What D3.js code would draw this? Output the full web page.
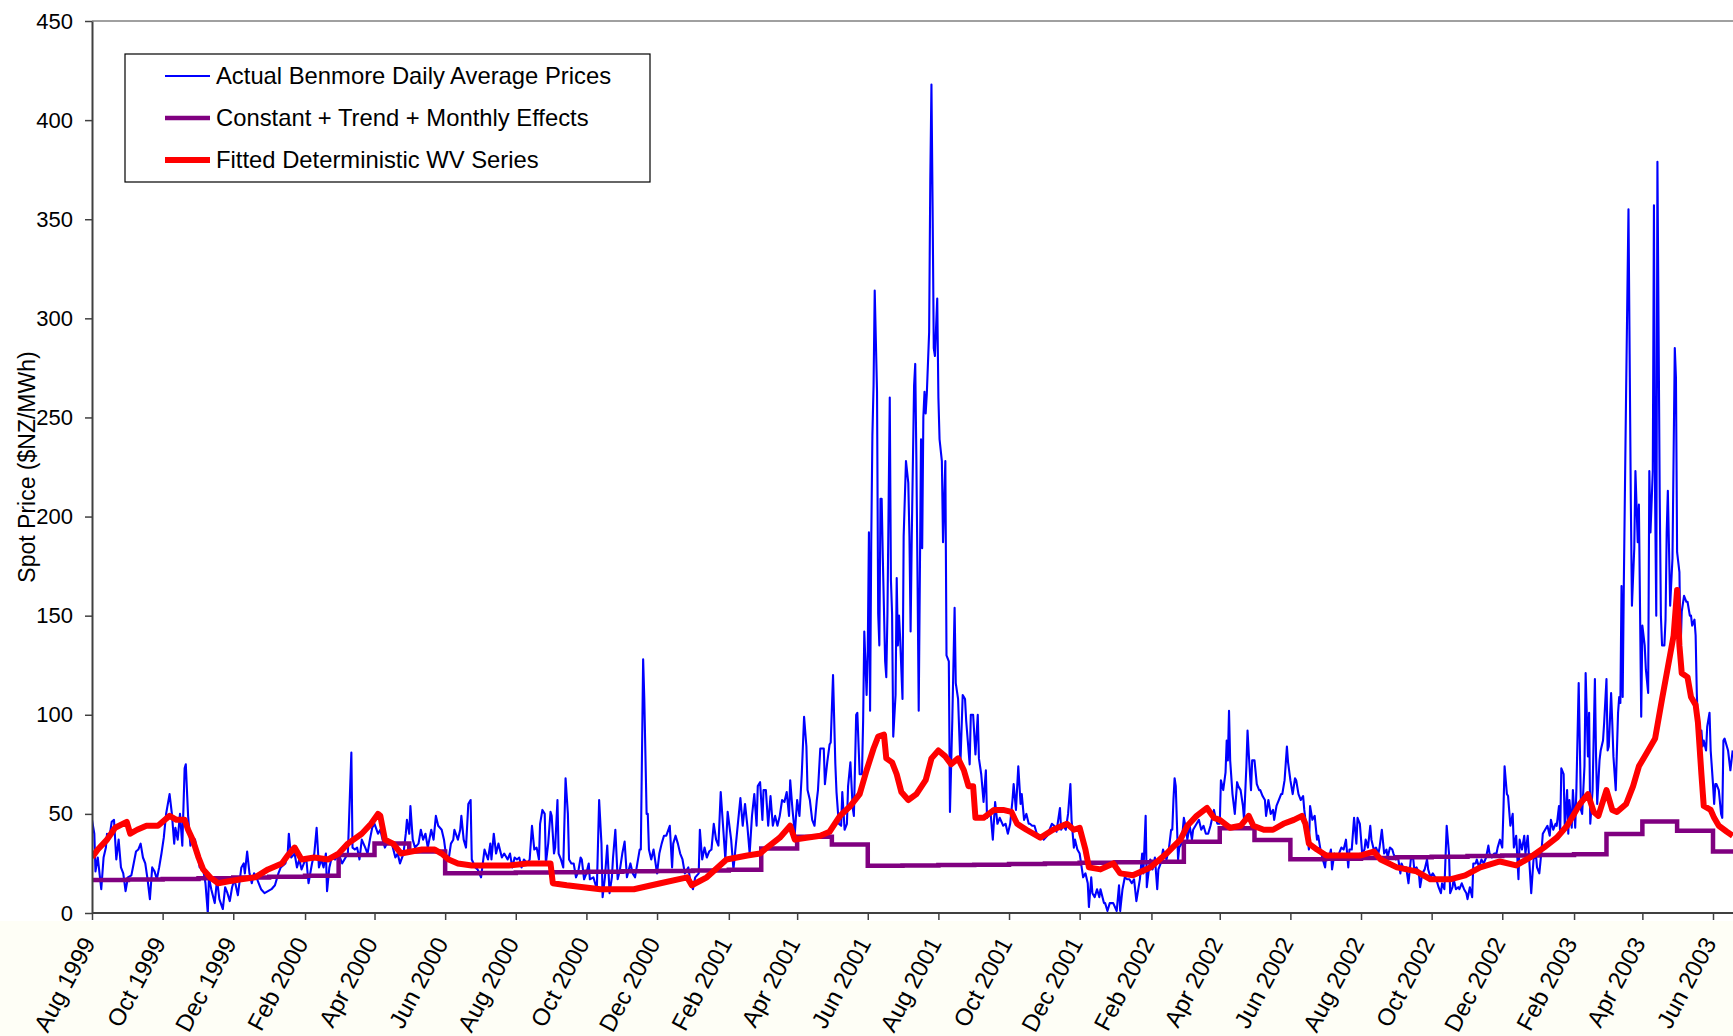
<!DOCTYPE html>
<html>
<head>
<meta charset="utf-8">
<script src="https://cdn.jsdelivr.net/npm/d3@7"></script>
<style>
  body { margin: 0; background: #fff; }
  svg text { font-family: "Liberation Sans", Arial, sans-serif; fill: #000; }
</style>
</head>
<body>
<svg id="chart" width="1733" height="1036"></svg>
<script>
// day offsets are counted from 1 Aug 1999
const START = Date.UTC(1999, 7, 1);
const DAY = 86400000;

const seriesLabels = [
  "Actual Benmore Daily Average Prices",
  "Constant + Trend + Monthly Effects",
  "Fitted Deterministic WV Series"
];
const seriesColors = ["#0000ff", "#800080", "#ff0000"];
const seriesWidths = [2.1, 4.5, 6];

const yTicks = [0, 50, 100, 150, 200, 250, 300, 350, 400, 450];

// [day, $/MWh]
const actualPrices = [
  [0,47],[2,40],[3,21],[5,28],[8,12],[10,28],[12,33],[13,40],[15,38],[17,46],[19,47],[21,27],[23,37],[25,23],[27,20],[29,11],[31,18],[34,19],[36,25],[38,31],[40,32],[42,35],[44,28],[46,25],[48,17],[50,7],[52,23],[54,21],[56,17],[58,23],[60,30],[62,38],[64,50],[67,60],[69,50],[71,35],[72,43],[74,37],[76,50],[78,34],[80,73],[81,75],[83,49],[85,34],[87,38],[89,37],[91,30],[93,23],[96,22],[98,15],[100,0],[101,18],[103,12],[106,5],[108,17],[110,7],[113,2],[115,13],[117,10],[119,6],[121,13],[123,17],[126,9],[129,23],[131,25],[132,20],[134,31],[136,20],[138,15],[140,20],[142,18],[144,15],[146,12],[149,10],[152,11],[155,12],[158,14],[161,20],[163,23],[167,25],[169,30],[170,40],[172,28],[175,30],[177,23],[179,27],[181,22],[183,25],[185,28],[187,15],[190,25],[192,30],[194,43],[196,23],[198,27],[200,23],[202,30],[203,11],[205,23],[207,28],[210,27],[213,30],[216,25],[218,27],[221,30],[224,81],[225,33],[227,32],[229,33],[231,27],[233,37],[236,33],[238,30],[240,37],[242,43],[244,45],[247,40],[249,42],[251,37],[253,33],[256,37],[259,35],[262,28],[264,30],[266,25],[269,30],[271,40],[272,47],[274,40],[275,54],[277,37],[279,33],[282,35],[284,42],[286,37],[288,40],[290,33],[293,42],[295,37],[297,49],[299,44],[302,42],[304,37],[306,28],[308,27],[310,35],[312,37],[313,42],[316,37],[318,42],[319,49],[321,37],[323,33],[325,55],[327,57],[328,27],[331,23],[333,22],[336,18],[339,32],[342,27],[344,35],[345,27],[347,40],[349,30],[351,35],[354,28],[356,30],
  [359,27],[361,30],[363,23],[365,28],[367,27],[369,28],[371,23],[373,27],[376,25],[378,27],[380,44],[382,32],[384,33],[386,27],[387,45],[389,52],[391,50],[392,25],[394,35],[396,51],[397,49],[399,30],[400,33],[402,57],[403,30],[405,27],[407,23],[409,68],[411,50],[412,27],[414,25],[416,25],[418,18],[420,21],[422,28],[423,27],[425,17],[427,20],[429,25],[430,17],[433,18],[436,12],[438,57],[440,35],[441,8],[443,18],[445,34],[447,10],[449,18],[450,28],[452,42],[454,17],[456,22],[458,30],[460,36],[462,18],[465,25],[467,20],[469,18],[471,25],[473,32],[474,32],[476,128],[477,108],[479,50],[480,50],[481,32],[483,27],[485,32],[488,20],[490,30],[492,35],[494,39],[496,39],[499,44],[501,23],[502,35],[504,39],[506,35],[508,30],[510,27],[512,20],[515,23],[517,15],[519,12],[521,18],[524,20],[525,42],[527,27],[529,33],[531,28],[533,31],[535,32],[537,45],[539,37],[541,34],[543,61],[545,44],[547,27],[549,51],[552,37],[554,22],[557,40],[560,58],[562,44],[564,55],[566,44],[568,30],[570,49],[572,60],[574,44],[575,64],[577,66],[579,47],[580,62],[582,62],[584,44],[586,59],[588,44],[590,49],[592,44],[594,49],[596,57],[598,56],[600,61],[602,49],[603,67],[605,52],[607,40],[609,57],[611,49],[613,70],[615,99],[617,84],[618,62],[620,57],[622,47],[624,44],[626,57],[627,62],[629,83],[632,83],[633,65],[635,76],[637,85],[638,86],[640,120],
  [642,75],[643,61],[645,45],[647,44],[648,61],[650,42],[652,45],[653,64],[655,76],[657,53],[658,49],[660,100],[661,101],[663,70],[665,70],[666,97],[667,142],[669,110],[670,132],[671,192],[672,102],[673,187],[674,241],[675,266],[676,314],[678,263],[679,151],[680,135],[681,209],[682,209],[683,179],[685,127],[686,119],[687,151],[689,260],[690,168],[691,151],[692,89],[694,110],[695,169],[696,135],[697,150],[698,138],[700,108],[701,190],[703,228],[705,217],[706,190],[707,142],[708,190],[710,266],[711,277],[712,228],[713,168],[714,102],[716,239],[717,184],[718,250],[719,263],[720,252],[721,262],[723,293],[724,370],[725,418],[726,356],[727,285],[728,281],[730,310],[731,260],[732,239],[734,228],[735,187],[737,228],[738,130],[740,127],[741,51],[743,97],[745,154],[746,116],[748,108],[750,75],[752,110],[754,108],[755,97],[758,75],[759,100],[761,100],[763,80],[765,100],[766,78],[768,70],[770,56],[772,72],[773,48],[776,51],[778,37],[780,56],[782,45],[784,48],
  [787,44],[789,45],[791,40],[793,45],[795,57],[796,65],[798,52],[800,74],[802,55],[803,60],[805,47],[807,50],[809,45],[810,45],[812,44],[814,44],[816,40],[818,39],[820,39],[822,37],[825,39],[827,42],[829,45],[831,44],[833,41],[836,53],[837,42],[839,44],[841,42],[843,50],[845,65],[846,47],[848,33],[849,37],[851,32],[853,30],[855,22],[856,18],[858,20],[860,15],[861,3],[863,18],[864,10],[866,8],[868,12],[870,8],[871,12],[874,5],[875,5],[877,1],[879,5],[882,5],[885,1],[887,14],[888,1],[890,12],[892,18],[894,17],[896,17],[898,15],[900,17],[902,6],[905,17],[907,30],[908,20],[910,49],[911,13],[913,23],[914,27],[916,22],[918,28],[920,12],[921,22],[923,25],[925,32],[928,27],[930,32],[932,42],[933,42],[934,57],[935,68],[936,64],[938,27],[939,33],[941,35],[943,48],[945,42],[946,37],[948,44],[950,37],[951,42],[954,45],[956,47],[958,42],[960,44],[962,40],[964,40],[966,44],[969,52],[970,49],[972,45],[974,45],[975,67],[977,62],[979,71],[980,87],[981,77],[982,102],[983,77],[985,60],[987,50],[989,66],[990,64],[992,62],[994,54],[995,47],[997,74],[998,92],[999,81],[1001,62],[1002,77],[1004,77],[1006,65],[1008,62],[1009,62],[1011,59],[1013,57],[1014,49],[1016,57],[1018,50],[1020,52],[1021,47],[1023,54],[1025,57],[1027,60],[1028,60],[1030,67],[1032,84],[1033,76],[1035,67],[1037,60],[1039,68],[1040,67],[1042,60],[1044,57],[1046,59],[1047,52],[1049,42],[1051,32],[1052,54],[1054,47],[1056,49],[1058,37],[1059,39],[1061,32],[1063,27],[1065,23],[1066,30],[1068,27],[1070,32],[1071,22],[1073,30],[1075,27],[1077,30],[1079,33],[1081,32],[1083,37],[1085,23],[1086,32],[1088,32],[1090,48],[1092,35],[1093,48],[1095,45],
  [1097,30],[1099,32],[1100,37],[1102,33],[1104,44],[1105,37],[1107,32],[1109,33],[1111,30],[1112,33],[1114,42],[1116,30],[1118,32],[1119,28],[1121,33],[1123,32],[1124,30],[1126,27],[1128,28],[1130,20],[1131,25],[1133,22],[1135,23],[1137,15],[1139,27],[1141,28],[1142,22],[1144,23],[1146,20],[1147,13],[1149,20],[1151,22],[1153,27],[1154,22],[1156,18],[1158,20],[1160,18],[1161,17],[1163,13],[1165,10],[1166,15],[1168,12],[1170,44],[1172,30],[1173,10],[1175,13],[1176,17],[1178,12],[1180,13],[1181,12],[1183,15],[1185,12],[1187,10],[1188,7],[1190,13],[1192,8],[1193,25],[1195,25],[1196,27],[1198,23],[1200,27],[1202,25],[1204,28],[1206,34],[1207,30],[1209,28],[1211,30],[1213,30],[1214,33],[1216,37],[1218,33],[1219,52],[1220,74],[1222,60],[1223,59],[1225,44],[1227,50],[1228,33],[1230,39],[1232,17],[1233,37],[1235,32],[1237,39],[1238,30],[1240,39],[1242,20],[1243,10],[1245,27],[1247,30],[1248,23],[1250,20],[1252,32],[1253,40],[1255,42],[1257,44],[1259,39],[1260,47],[1262,42],[1264,45],[1265,44],[1267,54],[1268,40],
  [1269,73],[1271,70],[1272,43],[1274,62],[1275,40],[1276,57],[1278,43],[1279,62],[1281,43],[1282,62],[1284,116],[1286,52],[1287,50],[1289,74],[1290,121],[1292,79],[1293,101],[1294,45],[1296,62],[1298,118],[1299,79],[1300,55],[1302,77],[1303,82],[1305,87],[1306,96],[1308,118],[1309,82],[1310,84],[1312,111],[1313,96],[1314,79],[1316,62],[1318,101],[1319,109],[1320,106],[1321,165],[1322,109],[1323,167],[1325,265],[1327,355],[1328,282],[1329,209],[1330,155],[1332,184],[1333,223],[1335,187],[1336,206],[1338,99],[1339,145],[1341,135],[1342,123],[1344,111],[1345,223],[1346,192],[1348,223],[1349,357],[1350,209],[1351,150],[1352,379],[1354,209],[1355,150],[1356,135],[1358,135],[1359,148],[1360,192],[1361,213],[1362,184],[1363,155],[1365,179],[1367,285],[1368,270],[1369,182],[1371,172],[1372,133],[1373,152],[1375,160],[1377,157],[1378,157],[1380,150],[1381,150],[1382,145],[1384,148],[1385,140],[1386,111],[1388,77],[1390,92],[1391,84],[1392,87],[1394,82],[1395,94],[1397,101],[1398,82],[1400,65],[1401,55],[1402,65],[1403,65],[1405,62],[1407,50],[1408,48],[1409,87],[1410,88],[1412,84],[1413,82],[1415,72],[1416,77],[1417,82]
];

// one value per month, Aug 1999 .. Jul 2003
const monthlyEffects = [
  16.6, 16.9, 17.2, 17.5, 17.9,
  18.3, 18.8, 29.2, 35.1, 31.0, 20.0, 20.2, 20.4, 20.6, 20.8, 21.0, 21.2,
  21.5, 21.8, 32.6, 38.5, 34.5, 23.8, 24.0, 24.2, 24.4, 24.7, 25.0, 25.3,
  25.6, 25.9, 36.0, 42.7, 36.8, 27.1, 27.4, 27.7, 28.1, 28.4, 28.7, 29.0,
  29.3, 29.6, 39.8, 46.1, 41.5, 31.0, 31.3
];

// [day, $/MWh]
const fittedWV = [
  [0,28],[5,32],[13,37],[20,43],[30,46],[33,40],[39,42],[47,44],[57,44],[63,47],[67,49],[73,47],[80,47],[83,42],[87,37],[92,28],[96,22],[102,18],[109,15],[118,16],[129,17],[141,18],[152,22],[164,25],[169,29],[175,33],[181,27],[192,28],[204,27],[213,30],[221,35],[233,40],[241,45],[247,50],[249,49],[253,37],[260,35],[267,30],[276,31],[285,32],[296,32],[302,30],[308,27],[316,25],[328,24],[345,24],[360,24],[376,25],[396,25],[398,15],[410,14],[439,12],[468,12],[491,15],[514,18],[518,14],[531,18],[548,27],[566,29],[577,30],[583,33],[594,38],[603,44],[607,37],[617,38],[629,39],[637,41],[646,49],[655,54],[663,60],[669,72],[675,83],[679,89],[684,90],[686,78],[691,76],[695,70],[699,61],[705,57],[712,60],[720,67],[725,78],[731,82],[737,79],[742,75],[748,78],[753,72],[757,64],[761,64],[763,48],[770,48],[779,52],[787,52],[794,51],[799,45],[807,42],[819,38],[830,42],[842,45],[848,42],[853,43],[858,32],[861,23],[871,22],[882,25],[888,20],[899,19],[914,23],[928,30],[940,37],[946,44],[954,49],[963,53],[969,48],[974,47],[983,43],[992,44],[999,49],[1003,44],[1012,42],[1020,42],[1029,45],[1038,47],[1045,49],[1048,45],[1051,35],[1058,32],[1066,29],[1084,29],[1095,29],[1107,31],[1113,27],[1127,23],[1144,21],[1156,17],[1173,17],[1186,19],[1199,23],[1216,26],[1230,24],[1242,28],[1254,33],[1265,38],[1274,44],[1280,50],[1285,55],[1292,60],[1297,51],[1301,49],[1308,62],[1313,52],[1317,51],[1325,55],[1331,64],[1336,74],[1343,81],[1350,88],[1356,108],[1361,124],[1366,140],[1369,163],[1371,135],[1373,121],[1378,119],[1381,109],[1385,105],[1387,96],[1390,70],[1392,54],[1398,52],[1401,48],[1405,44],[1412,41],[1417,39]
];

const svg = d3.select("#chart");
const plotLeft = 92, plotRight = 1733, plotTop = 21, plotBottom = 913;
const dayDate = (d) => new Date(START + d * DAY);

const x = d3
  .scaleUtc()
  .domain([new Date(START), new Date(Date.UTC(2003, 5, 1))])
  .range([plotLeft, 1713]);
const y = d3.scaleLinear().domain([0, 450]).range([plotBottom, plotTop]);

const defs = svg.append("defs");
defs.append("clipPath").attr("id", "plotclip")
  .append("rect").attr("x", plotLeft).attr("y", 0).attr("width", plotRight - plotLeft).attr("height", plotBottom);

// very faint yellowish cast below the plot, as in the scan
svg.append("rect")
  .attr("x", 0).attr("y", plotBottom + 8)
  .attr("width", 1733).attr("height", 1036 - plotBottom - 8)
  .attr("fill", "#fefef6");

// top border of plot area
svg.append("line")
  .attr("x1", plotLeft).attr("x2", plotRight).attr("y1", plotTop).attr("y2", plotTop)
  .attr("stroke", "#808080").attr("stroke-width", 1.5);

const lines = svg.append("g").attr("clip-path", "url(#plotclip)");

const dayLine = d3.line()
  .x((d) => x(dayDate(d[0])))
  .y((d) => y(d[1]));

lines.append("path")
  .datum(actualPrices)
  .attr("fill", "none")
  .attr("stroke", seriesColors[0])
  .attr("stroke-width", seriesWidths[0])
  .attr("stroke-linejoin", "round")
  .attr("d", dayLine);

const months = d3.utcMonth.range(new Date(START), new Date(Date.UTC(2003, 7, 1)));
const monthData = months.map((m, i) => [m, monthlyEffects[i]]);
monthData.push([new Date(Date.UTC(2003, 7, 1)), monthlyEffects[monthlyEffects.length - 1]]);

lines.append("path")
  .datum(monthData)
  .attr("fill", "none")
  .attr("stroke", seriesColors[1])
  .attr("stroke-width", seriesWidths[1])
  .attr("d", d3.line().x((d) => x(d[0])).y((d) => y(d[1])).curve(d3.curveStepAfter));

lines.append("path")
  .datum(fittedWV)
  .attr("fill", "none")
  .attr("stroke", seriesColors[2])
  .attr("stroke-width", seriesWidths[2])
  .attr("stroke-linejoin", "round")
  .attr("d", dayLine);

// y axis
const yAxis = svg.append("g")
  .attr("transform", "translate(" + plotLeft + ",0)")
  .call(d3.axisLeft(y).tickValues(yTicks).tickSize(7).tickSizeOuter(0).tickPadding(12));
yAxis.select(".domain").attr("stroke", "#404040").attr("stroke-width", 2);
yAxis.selectAll(".tick line").attr("stroke", "#404040").attr("stroke-width", 1.5);
yAxis.selectAll("text").attr("font-size", "22px").attr("fill", "#000");

// x axis
const xTicks = d3.utcMonth.range(new Date(START), new Date(Date.UTC(2003, 6, 1)), 2);
const xAxis = svg.append("g")
  .attr("transform", "translate(0," + plotBottom + ")")
  .call(d3.axisBottom(x).tickValues(xTicks).tickFormat(d3.utcFormat("%b %Y")).tickSize(7).tickSizeOuter(0));
xAxis.select(".domain").attr("d", "M" + plotLeft + ",0H" + plotRight).attr("stroke", "#404040").attr("stroke-width", 2);
xAxis.selectAll(".tick line").attr("stroke", "#404040").attr("stroke-width", 1.5);
xAxis.selectAll("text")
  .attr("font-size", "24px")
  .attr("fill", "#000")
  .attr("text-anchor", "end")
  .attr("x", 0).attr("y", 0).attr("dy", "0.35em")
  .attr("transform", "translate(-4,26) rotate(-62)");

// y title
svg.append("text")
  .attr("transform", "translate(27,467) rotate(-90)")
  .attr("text-anchor", "middle")
  .attr("dy", "0.35em")
  .attr("font-size", "23px")
  .text("Spot Price ($NZ/MWh)");

// legend
const legend = svg.append("g");
legend.append("rect")
  .attr("x", 125).attr("y", 54).attr("width", 525).attr("height", 128)
  .attr("fill", "#fff").attr("stroke", "#000").attr("stroke-width", 1.2);
seriesLabels.forEach((label, i) => {
  const cy = 76 + i * 42;
  legend.append("line")
    .attr("x1", 165).attr("x2", 210).attr("y1", cy).attr("y2", cy)
    .attr("stroke", seriesColors[i]).attr("stroke-width", seriesWidths[i]);
  legend.append("text")
    .attr("x", 216).attr("y", cy).attr("dy", "0.35em")
    .attr("font-size", "23.8px")
    .text(label);
});
</script>
</body>
</html>
